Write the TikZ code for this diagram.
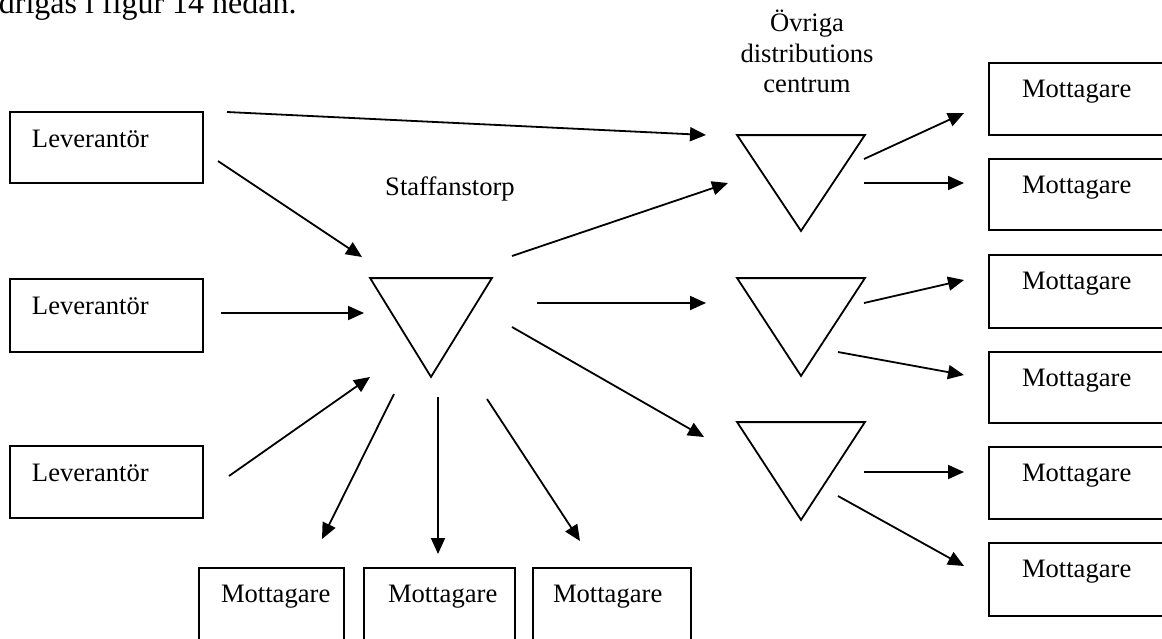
\documentclass[tikz,border=0pt]{standalone}
\usepackage{fontspec}
\setmainfont{Liberation Serif}
\usetikzlibrary{arrows.meta,fit,calc}
\begin{document}
\begin{tikzpicture}[x=0.5pt,y=-0.5pt,line width=0.9pt,
  box/.style={draw,inner sep=0pt,line width=0.9pt},
  hub/.style={inner sep=0pt},
  lbl/.style={anchor=base west,inner sep=0pt,font=\fontsize{13.3}{15.5}\selectfont},
  flow/.style={-{Triangle[length=8pt,width=7pt]},line width=0.9pt},
  tri/.style={draw,line width=0.9pt,line join=miter}]
\useasboundingbox (0,0) rectangle (1162,638);
\clip (0,0) rectangle (1162,638);

% header fragment
\node[anchor=base west,inner sep=0pt,font=\fontsize{16}{18}\selectfont] (head) at (-2,13) {drigas i figur 14 nedan.};

% suppliers
\node[box,fit={(10,112)(203,183)}] (lev1) {};
\node[box,fit={(10,279)(203,352)}] (lev2) {};
\node[box,fit={(10,446)(203,518)}] (lev3) {};
\node[lbl] (tlev1) at ($(lev1.north west)+(22,36)$) {Leverantör};
\node[lbl] (tlev2) at ($(lev2.north west)+(22,36)$) {Leverantör};
\node[lbl] (tlev3) at ($(lev3.north west)+(22,36)$) {Leverantör};

% Staffanstorp hub
\node[hub,fit={(371,279)(491,376)}] (staff) {};
\draw[tri] (staff.north west) -- (staff.north east) -- (staff.south) -- cycle;
\node[lbl,anchor=base] (tstaff) at (450,195) {Staffanstorp};

% other distribution centres
\node[hub,fit={(738,136)(864,230)}] (dc1) {};
\node[hub,fit={(738,279)(864,375)}] (dc2) {};
\node[hub,fit={(738,423)(864,519)}] (dc3) {};
\draw[tri] (dc1.north west) -- (dc1.north east) -- (dc1.south) -- cycle;
\draw[tri] (dc2.north west) -- (dc2.north east) -- (dc2.south) -- cycle;
\draw[tri] (dc3.north west) -- (dc3.north east) -- (dc3.south) -- cycle;
\node[lbl,anchor=base] (tdc1) at (807,31) {Övriga};
\node[lbl,anchor=base] (tdc2) at (807,62) {distributions};
\node[lbl,anchor=base] (tdc3) at (807,92) {centrum};

% right receivers
\node[box,fit={(989,63)(1200,135)}] (r1) {};
\node[box,fit={(989,159)(1200,230)}] (r2) {};
\node[box,fit={(989,255)(1200,328)}] (r3) {};
\node[box,fit={(989,352)(1200,423)}] (r4) {};
\node[box,fit={(989,447)(1200,519)}] (r5) {};
\node[box,fit={(989,543)(1200,616)}] (r6) {};
\foreach \i in {1,...,6}{\node[lbl] (tr\i) at ($(r\i.north west)+(33,35)$) {Mottagare};}

% bottom receivers
\node[box,fit={(199,568)(344,680)}] (b1) {};
\node[box,fit={(364,568)(515,680)}] (b2) {};
\node[box,fit={(533,568)(691,680)}] (b3) {};
\node[lbl] (tb1) at ($(b1.north west)+(22,35)$) {Mottagare};
\node[lbl] (tb2) at ($(b2.north west)+(24,35)$) {Mottagare};
\node[lbl] (tb3) at ($(b3.north west)+(20,35)$) {Mottagare};

% connector end points
\coordinate (a1s) at (227,112); \coordinate (a1e) at (706,135);
\coordinate (a2s) at (218,161); \coordinate (a2e) at (362,257);
\coordinate (a3s) at (221,313); \coordinate (a3e) at (364,313);
\coordinate (a4s) at (229,476); \coordinate (a4e) at (370,377);
\coordinate (a5s) at (394,394); \coordinate (a5e) at (322,539);
\coordinate (a6s) at (438,397); \coordinate (a6e) at (438,554);
\coordinate (a7s) at (487,399); \coordinate (a7e) at (580,541);
\coordinate (a8s) at (512,256); \coordinate (a8e) at (728,183);
\coordinate (a9s) at (537,303); \coordinate (a9e) at (706,303);
\coordinate (a10s) at (512,327); \coordinate (a10e) at (704,437);
\coordinate (a11s) at (864,159); \coordinate (a11e) at (964,113);
\coordinate (a12s) at (864,183); \coordinate (a12e) at (964,183);
\coordinate (a13s) at (864,303); \coordinate (a13e) at (964,280);
\coordinate (a14s) at (838,352); \coordinate (a14e) at (964,375);
\coordinate (a15s) at (864,472); \coordinate (a15e) at (964,472);
\coordinate (a16s) at (838,496); \coordinate (a16e) at (964,566);
\foreach \i in {1,...,16}{\draw[flow] (a\i s) -- (a\i e);}
\end{tikzpicture}
\end{document}
